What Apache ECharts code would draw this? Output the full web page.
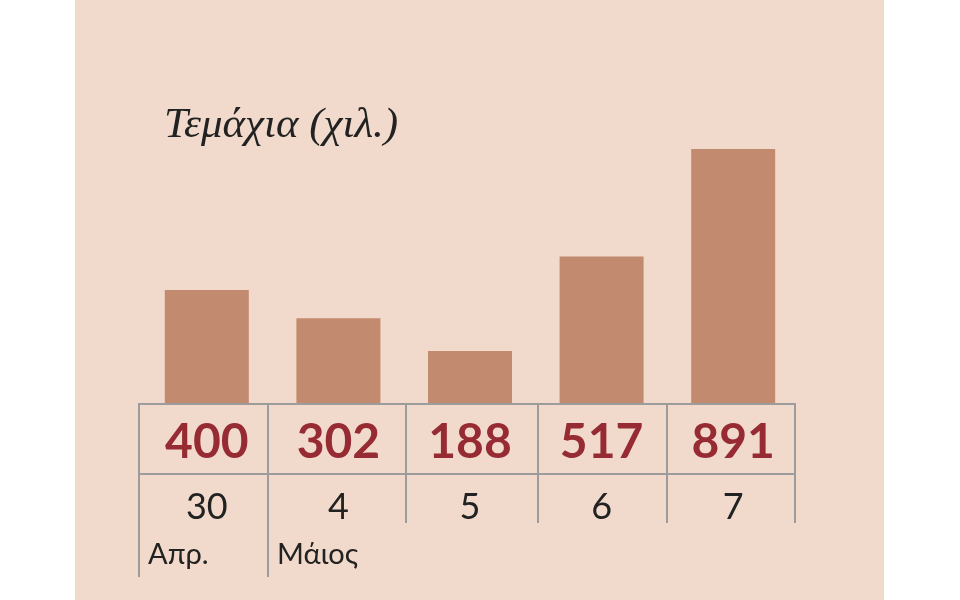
<!DOCTYPE html>
<html><head><meta charset="utf-8">
<script src="https://cdn.jsdelivr.net/npm/echarts@6/dist/echarts.min.js"></script>
<style>html,body{margin:0;padding:0;background:#fff}#c{width:960px;height:600px}</style>
</head><body><div id="c"></div>
<script>
const days = ['30', '4', '5', '6', '7'];
const values = [400, 302, 188, 517, 891];
const months = ['Απρ.', 'Μάιος'];
const title = 'Τεμάχια (χιλ.)';

const bg = '#F1DACB', barColor = '#C28A6E', valColor = '#962B33', lineColor = '#9C9C9C';
const chart = echarts.init(document.getElementById('c'));
const line = (x1, y1, x2, y2) => ({type:'line', shape:{x1, y1, x2, y2}, style:{stroke:lineColor, lineWidth:2}, z:10});
const colX = [139, 268, 406, 538, 667, 795];
const graphics = [
  {type:'rect', shape:{x:75, y:0, width:809, height:600}, style:{fill:bg}, z:-10},
  line(138, 404, 796, 404),
  line(138, 474, 796, 474)
];
colX.forEach((x, i) => graphics.push(line(x, 404, x, i < 2 ? 577 : 523)));
months.forEach((m, i) => graphics.push({type:'text', left: colX[i] + 9, top: 540,
  style:{text:m, font:'29px Lato', fill:'#222'}, z:10}));

chart.setOption({
  animation:false,
  title:{text:title, left:159, top:99, textStyle:{fontFamily:'Liberation Serif', fontStyle:'italic', fontWeight:'normal', fontSize:43, color:'#222'}},
  graphic: graphics,
  grid:{left:141, right:161, top:149, bottom:195},
  xAxis:{type:'category', data:days, axisLine:{show:false}, axisTick:{show:false},
    axisLabel:{margin:84, fontFamily:'Lato', fontSize:36, color:'#222'}},
  yAxis:{type:'value', min:0, max:'dataMax', show:false, splitLine:{show:false}},
  series:[{type:'bar', data:values, barWidth:84, itemStyle:{color:barColor},
    label:{show:true, position:'bottom', distance:14, fontFamily:'Lato', fontWeight:'bold', fontSize:48, color:valColor}}]
});
</script></body></html>
